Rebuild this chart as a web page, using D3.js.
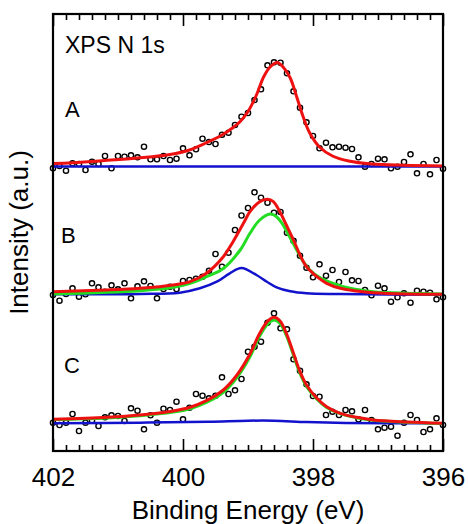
<!DOCTYPE html>
<html><head><meta charset="utf-8">
<script src="https://cdn.jsdelivr.net/npm/d3@7"></script>
<style>
html,body{margin:0;padding:0;background:#fff;}
svg{display:block;font-family:"Liberation Sans",Arial,Helvetica,sans-serif;}
</style></head>
<body>
<svg id="chart" width="468" height="524"></svg>
<script>
// ---------- data ----------
const energies = [402.0,401.9,401.8,401.7,401.6,401.5,401.4,401.3,401.2,401.1,
  401.0,400.9,400.8,400.7,400.6,400.5,400.4,400.3,400.2,400.1,
  400.0,399.9,399.8,399.7,399.6,399.5,399.4,399.3,399.2,399.1,
  399.0,398.9,398.8,398.7,398.6,398.5,398.4,398.3,398.2,398.1,
  398.0,397.9,397.8,397.7,397.6,397.5,397.4,397.3,397.2,397.1,
  397.0,396.9,396.8,396.7,396.6,396.5,396.4,396.3,396.2,396.1,396.0];

const dataA = [-1.8,0.5,-4.2,3.2,2.5,-3.5,4.8,2.5,10.5,-1.8,
  10.5,9.8,11.2,9.2,19.8,7.2,7.2,10.5,6.5,7.8,
  18.2,11.2,17.2,27.8,24.5,22.5,31.8,33.8,41.5,49.8,
  53.5,66.5,77.2,101.2,104.2,103.8,93.2,75.2,58.8,44.2,
  30.5,18.2,23.8,19.2,19.8,18.8,17.5,9.2,-0.2,2.5,
  7.8,7.2,-1.8,-0.2,4.5,12.2,-6.8,2.5,-7.8,6.5,-2.2];
const dataB = [-0.5,-6.2,0.5,6.2,-2.2,0.2,11.2,7.2,2.8,9.2,
  5.2,11.2,-3.8,8.2,13.2,8.5,-3.8,5.5,7.8,5.5,
  13.5,14.5,15.8,17.8,23.8,40.5,27.8,41.8,64.5,79,
  86.5,102.2,96.8,91.8,81.8,82.5,61.8,53.8,38.8,26.8,
  17.2,30.2,18.8,24.5,12.5,22.5,14.2,13.5,4.5,-0.8,
  8.8,6.2,-7.2,-2.8,1.2,-8.2,3.8,2.8,1.8,-4.8,-2.8];
const dataC = [0.8,-1.5,0.8,9.5,-7.5,0.8,2.8,-2.5,6.2,8.2,
  7.5,2.5,15.2,12.8,-5.8,8.2,0.8,14.8,13.5,21.8,
  4.2,15.8,29.5,27.8,25.2,27.8,46.2,29.5,33.2,44.5,
  71.8,76.8,81.8,100.8,110.2,95.2,94.2,64.2,52.8,39.2,
  27.5,26.8,8.5,11.8,8.5,13.5,12.2,4.2,13.5,3.5,
  -5.8,-4.2,-3.2,-12.2,0.8,8.5,3.5,-8.5,-5.8,5.2,-1.5];

// fit curves (energy, intensity)
const redA_E = [402.0,401.7,401.2,400.7,400.2,399.9,399.65,399.4,399.25,399.12,399.0,398.87,398.76,398.66,398.55,398.46,398.35,398.25,398.15,398.05,397.9,397.7,397.45,397.1,396.6,396.0];
const redA   = [3,3.8,6,8.5,12,16.5,23.5,31.5,38,45,55,71.5,89.5,99.5,104,99.5,88.5,69.5,49.5,33.5,19.5,10.5,5.5,2.5,1.2,0.5];
const blueA_E = [402.0,399.0,396.0];
const blueA   = [0,0,0];

const redB_E = [402.0,401.17,400.66,400.15,399.89,399.64,399.38,399.23,399.07,398.97,398.82,398.70,398.61,398.51,398.41,398.30,398.20,398.10,397.94,397.79,397.58,397.33,397.07,396.56,396.0];
const redB   = [2.8,4.5,6.2,9.5,12.8,21.2,37.8,52.8,71.2,82.8,92.8,95.2,92.8,82.8,69.5,54.5,39.5,27.8,17.8,11.2,6.2,3.5,1.8,0.5,0.2];
const greenB_E = [402.0,400.66,400.15,399.89,399.64,399.38,399.12,398.97,398.82,398.66,398.56,398.46,398.36,398.25,398.15,398.05,397.89,397.69,397.43,397.07,396.56,396.0];
const greenB   = [0.5,3.8,7.2,11.2,17.8,26,44.5,61.2,74.5,80.5,77.8,69.5,57.8,44.5,32.8,24.5,16.8,11.2,6.2,2.8,1.2,0.5];
const blueB_E = [402.0,400.66,400.05,399.74,399.48,399.28,399.1,398.87,398.71,398.56,398.35,398.10,397.58,396.0];
const blueB   = [0.2,0.5,1.8,6.2,12.8,21.2,26.5,19.5,12.8,7.2,3.2,1.2,0.5,-0.2];

const redC_E = [402.0,401.17,400.66,400.15,399.89,399.64,399.38,399.17,398.97,398.82,398.69,398.60,398.51,398.41,398.30,398.20,398.10,397.94,397.79,397.58,397.33,397.07,396.56,396.0];
const redC   = [4.2,6.2,8.5,12.5,16.2,22.8,33.5,48.5,69.5,90.2,102.8,106.2,102.8,90.2,70.2,51.8,38.5,25.2,16.8,10.2,6.2,3.5,1.5,0.2];
const greenC = [4.0,5.6,7.7,11.4,14.8,21.0,31.2,46.0,66.7,87.4,100.0,103.4,100.3,88.0,68.2,50.0,37.0,24.3,16.1,9.8,5.8,3.2,1.3,0.0];
const blueC_E = [402.0,400.66,399.6,399.0,398.6,398.1,397.5,396.0];
const blueC   = [0.2,0.8,1.8,2.8,2.8,1.5,0.6,0.2];

const offsets = [284.5, 156.5, 27.5];     // vertical offsets of spectra A, B, C
const spectrumLabels = ["A", "B", "C"];
const majorTicks = [402, 400, 398, 396];
const minorTicks = [401.8,401.6,401.4,401.2,401.0,400.8,400.6,400.4,400.2,
                    399.8,399.6,399.4,399.2,399.0,398.8,398.6,398.4,398.2,
                    397.8,397.6,397.4,397.2,397.0,396.8,396.6,396.4,396.2];

// ---------- drawing ----------
const svg = d3.select("#chart");
const M = {left: 53, right: 443, top: 14, bottom: 451};
const x = d3.scaleLinear().domain([402, 396]).range([M.left, M.right]);
const y = d3.scaleLinear().domain([0, 437]).range([M.bottom, M.top]);

const RED = "#ee1111", GREEN = "#22dd22", BLUE = "#1212cc";

const line = (off) => d3.line()
  .x(d => x(d[0])).y(d => y(d[1] + off))
  .curve(d3.curveCatmullRom.alpha(0.5));

const zip = (a, b) => a.map((v, i) => [v, b[i]]);

const spectra = [
  {data: dataA, fits: [{E: blueA_E, v: blueA, c: BLUE, w: 2.5}, {E: redA_E, v: redA, c: RED, w: 3}]},
  {data: dataB, fits: [{E: blueB_E, v: blueB, c: BLUE, w: 2.5}, {E: greenB_E, v: greenB, c: GREEN, w: 3}, {E: redB_E, v: redB, c: RED, w: 3}]},
  {data: dataC, fits: [{E: blueC_E, v: blueC, c: BLUE, w: 2.5}, {E: redC_E, v: greenC, c: GREEN, w: 3}, {E: redC_E, v: redC, c: RED, w: 3}]}
];

const plot = svg.append("g");
spectra.forEach((s, i) => {
  const off = offsets[i];
  plot.append("g").selectAll("circle")
    .data(zip(energies, s.data))
    .join("circle")
    .attr("cx", d => x(d[0])).attr("cy", d => y(d[1] + off))
    .attr("r", 2.6).attr("fill", "none").attr("stroke", "#000").attr("stroke-width", 1.4);
  s.fits.forEach(f => {
    plot.append("path")
      .datum(zip(f.E, f.v))
      .attr("d", line(off))
      .attr("fill", "none").attr("stroke", f.c).attr("stroke-width", f.w)
      .attr("stroke-linejoin", "round");
  });
});

// axes (ticks point inward)
const gB = svg.append("g").attr("transform", `translate(0,${M.bottom})`)
  .call(d3.axisBottom(x).tickValues(majorTicks).tickSize(-12).tickPadding(17).tickFormat(d3.format("d")));
svg.append("g").attr("transform", `translate(0,${M.bottom})`)
  .call(d3.axisBottom(x).tickValues(minorTicks).tickSize(-6).tickFormat(""));
svg.append("g").attr("transform", `translate(0,${M.top})`)
  .call(d3.axisTop(x).tickValues(majorTicks).tickSize(-12).tickFormat(""));
svg.append("g").attr("transform", `translate(0,${M.top})`)
  .call(d3.axisTop(x).tickValues(minorTicks).tickSize(-6).tickFormat(""));
svg.selectAll(".domain").remove();
svg.selectAll(".tick line").attr("stroke", "#000").attr("stroke-width", 1.6);
gB.selectAll(".tick text").attr("font-size", 26).attr("fill", "#000")
  .attr("font-family", "Liberation Sans, Arial, sans-serif");

// frame
svg.append("rect").attr("x", M.left).attr("y", M.top)
  .attr("width", M.right - M.left).attr("height", M.bottom - M.top)
  .attr("fill", "none").attr("stroke", "#000").attr("stroke-width", 2.2);

// axis titles
svg.append("text").attr("x", (M.left + M.right) / 2).attr("y", 519)
  .attr("text-anchor", "middle").attr("font-size", 26).text("Binding Energy (eV)");
svg.append("text").attr("transform", `translate(28,${(M.top + M.bottom) / 2}) rotate(-90)`)
  .attr("text-anchor", "middle").attr("font-size", 26).text("Intensity (a.u.)");

// annotations
svg.append("text").attr("x", 65).attr("y", 53).attr("font-size", 23).text("XPS N 1s");
const labelPos = [[65, 117], [61, 243], [64, 373]];
spectrumLabels.forEach((t, i) => {
  svg.append("text").attr("x", labelPos[i][0]).attr("y", labelPos[i][1])
    .attr("font-size", 22).text(t);
});
</script>
</body></html>
